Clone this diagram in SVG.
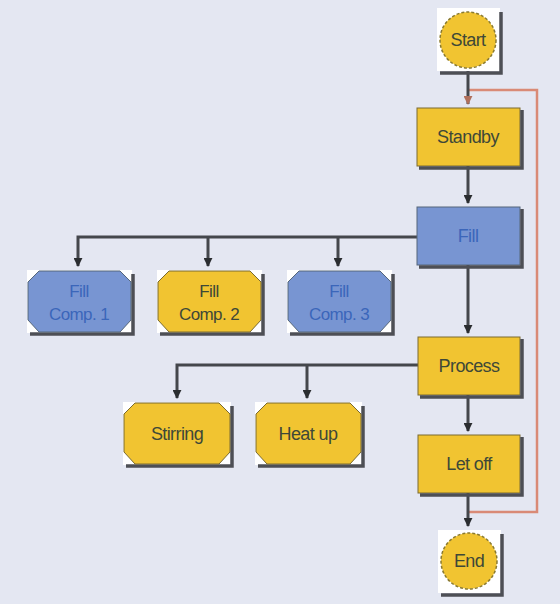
<svg xmlns="http://www.w3.org/2000/svg" width="560" height="604" viewBox="0 0 560 604">
<defs>
<style>
.bg{fill:#e4e7f2}
.y{fill:#f1c431;stroke:#7a6a30;stroke-width:1}
.b{fill:#7895d2;stroke:#55667a;stroke-width:1}
.sh{fill:none;stroke:#4d4f55;stroke-width:3.5}
.wsq{fill:#ffffff}
.c{fill:none;stroke:#44474c;stroke-width:3}
.o{fill:none;stroke:#d98a76;stroke-width:2.5}
.ty{font-family:"Liberation Sans",Arial,sans-serif;font-size:18px;fill:#3e4838;text-anchor:middle;letter-spacing:-0.6px}
.tb{font-family:"Liberation Sans",Arial,sans-serif;font-size:18px;fill:#3b66ba;text-anchor:middle;letter-spacing:-0.6px}
.s{font-size:17px}
.circ{fill:#f1c431;stroke:#8a7a30;stroke-width:1.5;stroke-dasharray:3 2}
</style>
<marker id="ah" viewBox="0 0 10 10" refX="9" refY="5" markerWidth="3" markerHeight="3" orient="auto" markerUnits="strokeWidth">
<path d="M0,0 L10,5 L0,10 z" fill="#2a2d30"/>
</marker>
<marker id="aho" viewBox="0 0 10 10" refX="9" refY="5" markerWidth="3" markerHeight="3" orient="auto" markerUnits="strokeWidth">
<path d="M0,0 L10,5 L0,10 z" fill="#b0705c"/>
</marker>
</defs>
<rect class="bg" x="0" y="0" width="560" height="604"/>

<g id="connectors">
<path class="o" d="M468,90 H537 V512 H468"/>
<path class="c" d="M468,71 V104" marker-end="url(#aho)"/>
<path class="c" d="M468,166 V203" marker-end="url(#ah)"/>
<path class="c" d="M417,237 H78 V266" marker-end="url(#ah)"/>
<path class="c" d="M208,237 V266" marker-end="url(#ah)"/>
<path class="c" d="M338,237 V266" marker-end="url(#ah)"/>
<path class="c" d="M468,265 V333" marker-end="url(#ah)"/>
<path class="c" d="M418,365 H177 V398" marker-end="url(#ah)"/>
<path class="c" d="M307,365 V398" marker-end="url(#ah)"/>
<path class="c" d="M468,395 V431" marker-end="url(#ah)"/>
<path class="c" d="M468,493 V526" marker-end="url(#ah)"/>
</g>

<g id="start">
<rect class="wsq" x="437" y="8" width="63" height="63"/>
<path class="sh" d="M501,12 V73 H440"/>
<circle class="circ" cx="468" cy="40" r="28"/>
<text class="ty" x="468" y="46">Start</text>
</g>

<g id="standby">
<rect class="y" x="417" y="108" width="103" height="58"/>
<path class="sh" d="M522,110 V168 H419"/>
<text class="ty" x="468" y="143">Standby</text>
</g>

<g id="fill">
<rect class="b" x="417" y="207" width="103" height="58"/>
<path class="sh" d="M522,209 V267 H419"/>
<text class="tb" x="468" y="242">Fill</text>
</g>

<g id="fillcomp1">
<rect class="wsq" x="27" y="270" width="105" height="63"/>
<path class="sh" d="M133,274 V334 H30"/>
<path class="b" d="M39,271 H120 L131,282 V320 L120,332 H39 L28,320 V282 z"/>
<text class="tb s" x="79" y="297">Fill</text>
<text class="tb s" x="79" y="320">Comp. 1</text>
</g>

<g id="fillcomp2">
<rect class="wsq" x="157" y="270" width="105" height="63"/>
<path class="sh" d="M263,274 V334 H160"/>
<path class="y" d="M169,271 H250 L261,282 V320 L250,332 H169 L158,320 V282 z"/>
<text class="ty s" x="209" y="297">Fill</text>
<text class="ty s" x="209" y="320">Comp. 2</text>
</g>

<g id="fillcomp3">
<rect class="wsq" x="287" y="270" width="105" height="63"/>
<path class="sh" d="M393,274 V334 H290"/>
<path class="b" d="M299,271 H380 L391,282 V320 L380,332 H299 L288,320 V282 z"/>
<text class="tb s" x="339" y="297">Fill</text>
<text class="tb s" x="339" y="320">Comp. 3</text>
</g>

<g id="process">
<rect class="y" x="418" y="337" width="102" height="58"/>
<path class="sh" d="M522,339 V397 H420"/>
<text class="ty" x="469" y="372">Process</text>
</g>

<g id="stirring">
<rect class="wsq" x="123" y="402" width="108" height="63"/>
<path class="sh" d="M232,406 V466 H126"/>
<path class="y" d="M135,403 H219 L230,414 V452 L219,464 H135 L124,452 V414 z"/>
<text class="ty" x="177" y="440">Stirring</text>
</g>

<g id="heatup">
<rect class="wsq" x="255" y="402" width="107" height="63"/>
<path class="sh" d="M363,406 V466 H258"/>
<path class="y" d="M267,403 H350 L361,414 V452 L350,464 H267 L256,452 V414 z"/>
<text class="ty" x="308" y="440">Heat up</text>
</g>

<g id="letoff">
<rect class="y" x="418" y="435" width="102" height="58"/>
<path class="sh" d="M522,437 V495 H420"/>
<text class="ty" x="469" y="470">Let off</text>
</g>

<g id="end">
<rect class="wsq" x="438" y="530" width="63" height="63"/>
<path class="sh" d="M502,534 V595 H441"/>
<circle class="circ" cx="469" cy="561" r="28"/>
<text class="ty" x="469" y="567">End</text>
</g>
</svg>
